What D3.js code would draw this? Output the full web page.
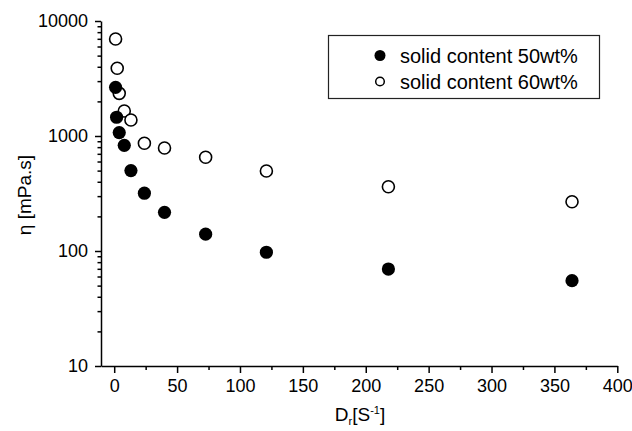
<!DOCTYPE html>
<html>
<head>
<meta charset="utf-8">
<script src="https://cdn.jsdelivr.net/npm/d3@7"></script>
<style>
    body { margin: 0; background: #fff; }
    svg { display: block; font-family: "Liberation Sans", Arial, sans-serif; }
    .axis path, .axis line { stroke: #000; stroke-width: 1.5; }
    .axis text { font-size: 18px; fill: #000; }
</style>
</head>
<body>
<svg id="chart" width="632" height="431"></svg>
<script>
// shear rate D_r [1/s] and viscosity [mPa.s]
const shear50 = [1.1, 1.9, 4, 8, 13.3, 24, 40, 72.7, 121, 218, 364];
const visc50 = [2650, 1455, 1070, 830, 500, 318, 217, 140, 97.5, 69.7, 55.2];
const shear60 = [1.1, 2.4, 4, 8, 13.3, 24, 40, 72.7, 121, 218, 364];
const visc60 = [6970, 3880, 2350, 1650, 1377, 864, 787, 653, 496, 362, 268];

const seriesNames = ["solid content 50wt%", "solid content 60wt%"];
const xTicks = [0, 50, 100, 150, 200, 250, 300, 350, 400];
const xMinorTicks = [25, 75, 125, 175, 225, 275, 325, 375];
const yTicks = [10, 100, 1000, 10000];

const svg = d3.select("#chart");

const x = d3.scaleLinear().domain([-10.5, 400]).range([101, 617.3]);
const y = d3.scaleLog().domain([10, 10000]).range([366, 21]);

// minor log ticks 20..90, 200..900, ...
const yMinorTicks = [];
for (const d of [10, 100, 1000]) {
    for (let k = 2; k <= 9; k++) yMinorTicks.push(d * k);
}

// x axis
svg.append("g")
    .attr("class", "axis")
    .attr("transform", "translate(0,366)")
    .call(d3.axisBottom(x).tickValues(xMinorTicks).tickSize(4).tickFormat(""))
    .call(g => g.select(".domain").remove());

svg.append("g")
    .attr("class", "axis")
    .attr("transform", "translate(0,366)")
    .call(d3.axisBottom(x).tickValues(xTicks).tickSize(7).tickSizeOuter(0).tickPadding(6).tickFormat(d3.format("d")))
    .call(g => g.selectAll("text").attr("dy", "0.71em"));

// y axis
svg.append("g")
    .attr("class", "axis")
    .attr("transform", "translate(101,0)")
    .call(d3.axisLeft(y).tickValues(yMinorTicks).tickSize(3.5).tickFormat(""))
    .call(g => g.select(".domain").remove());

svg.append("g")
    .attr("class", "axis")
    .attr("transform", "translate(101,0)")
    .call(d3.axisLeft(y).tickValues(yTicks).tickSize(6).tickSizeOuter(0).tickPadding(7).tickFormat(d3.format("d")));

// axis titles
svg.append("text")
    .attr("transform", "translate(31,195) rotate(-90)")
    .attr("text-anchor", "middle")
    .attr("font-size", 19)
    .text("η [mPa.s]");

const xTitle = svg.append("text")
    .attr("x", 360)
    .attr("y", 421)
    .attr("text-anchor", "middle")
    .attr("font-size", 19);
xTitle.append("tspan").text("D");
xTitle.append("tspan").attr("font-size", 11).attr("dy", 4).text("r");
xTitle.append("tspan").attr("dy", -4).text("[S");
xTitle.append("tspan").attr("font-size", 11).attr("dy", -7).text("-1");
xTitle.append("tspan").attr("dy", 7).text("]");

// points
svg.append("g").selectAll("circle")
    .data(d3.zip(shear60, visc60))
    .join("circle")
    .attr("cx", d => x(d[0]))
    .attr("cy", d => y(d[1]))
    .attr("r", 6)
    .attr("fill", "#fff")
    .attr("stroke", "#000")
    .attr("stroke-width", 1.6);

svg.append("g").selectAll("circle")
    .data(d3.zip(shear50, visc50))
    .join("circle")
    .attr("cx", d => x(d[0]))
    .attr("cy", d => y(d[1]))
    .attr("r", 6.6)
    .attr("fill", "#000");

// legend
const legend = svg.append("g");
legend.append("rect")
    .attr("x", 328.5).attr("y", 35.5)
    .attr("width", 271).attr("height", 63)
    .attr("fill", "#fff")
    .attr("stroke", "#222")
    .attr("stroke-width", 1.2);

legend.append("circle").attr("cx", 380).attr("cy", 55.5).attr("r", 5.5).attr("fill", "#000");
legend.append("circle").attr("cx", 380).attr("cy", 81.5).attr("r", 4.3)
    .attr("fill", "#fff").attr("stroke", "#000").attr("stroke-width", 1.5);

legend.selectAll("text.lbl")
    .data(seriesNames)
    .join("text")
    .attr("class", "lbl")
    .attr("x", 400)
    .attr("y", (d, i) => 62.5 + i * 26)
    .attr("font-size", 20)
    .text(d => d);
</script>
</body>
</html>
